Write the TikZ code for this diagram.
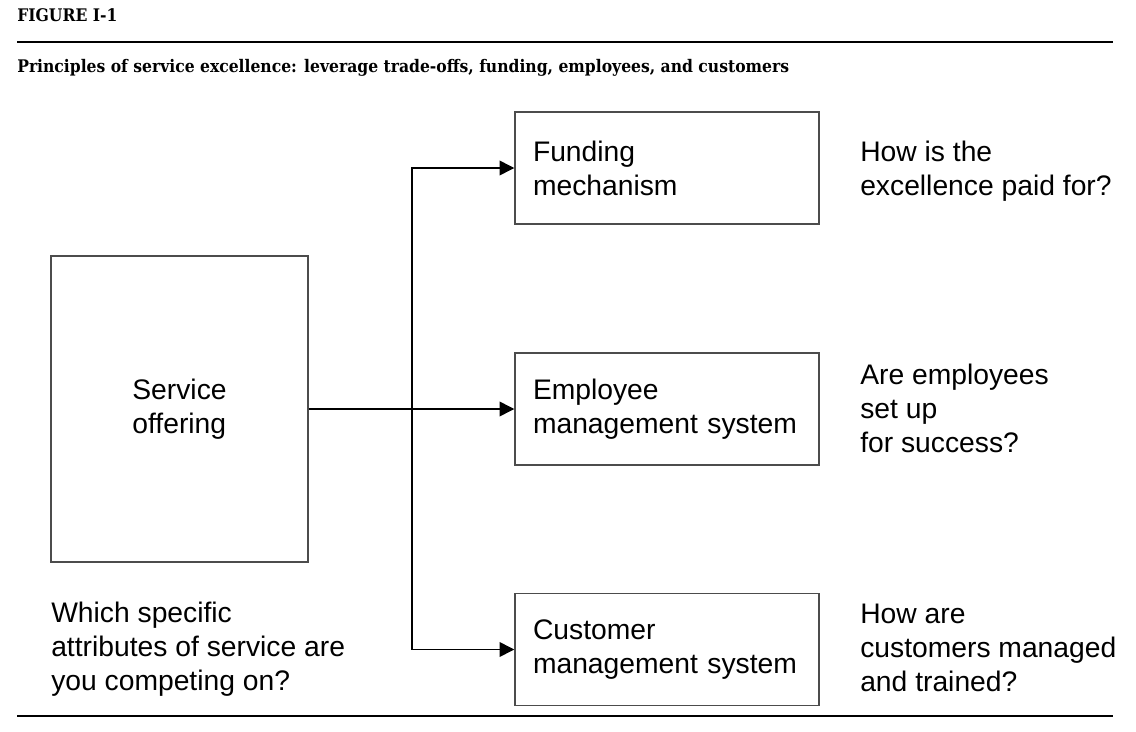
\documentclass[tikz,border=0pt]{standalone}
\usepackage{fontspec}
\setmainfont{Liberation Sans}
\newfontfamily\headfont{DejaVu Serif Condensed}
\usetikzlibrary{arrows.meta}
\begin{document}
\begin{tikzpicture}[x=0.75pt, y=-0.75pt,
    box/.style={draw=black!70, line width=1.1pt, minimum width=228pt, minimum height=84pt,
        text width=201pt, align=left, inner xsep=13.5pt, font=\fontsize{21.2}{25.5}\selectfont},
    txt/.style={inner sep=0pt, align=left, font=\fontsize{21.2}{25.5}\selectfont},
    head/.style={inner sep=0pt, font=\headfont\bfseries\fontsize{13}{15}\selectfont},
    arr/.style={line width=1.1pt, -{Triangle[length=11pt, width=11pt]}},
    rule/.style={line width=1.5pt}]
            \useasboundingbox (0,0) rectangle (1136,732);
            \node[head, anchor=base west] (fig) at (17,21) {FIGURE I-1};
            \node[head, anchor=base west] (title) at (17,72.5) {Principles of service excellence: leverage trade-offs, funding, employees, and customers};
            \draw[rule] (17,41.5) -- (1113,41.5);
            \draw[rule] (17,716) -- (1113,716);
            \node[box, minimum width=192.75pt, minimum height=229.5pt, text width=, align=left] (service) at (179.5,409) {Service\\offering};
            \node[box] (funding) at (667,168) {Funding\\mechanism};
            \node[box] (employee) at (667,409) {Employee\\management system};
            \node[box] (customer) at (667,649.5) {Customer\\management system};
            \coordinate (split) at (412,409);
            \draw[arr] (service.east) -- (employee.west);
            \draw[arr] (split) |- (funding.west);
            \draw[arr] (split) |- (customer.west);
            \node[txt, anchor=west] (paid) at (860,171) {How is the\\excellence paid for?};
            \node[txt, anchor=west] (setup) at (860,408) {Are employees\\set up\\for success?};
            \node[txt, anchor=west] (trained) at (860,647.5) {How are\\customers managed\\and trained?};
            \node[txt, anchor=west] (attrib) at (51,649) {Which specific\\attributes of service are\\you competing on?};
\end{tikzpicture}
\end{document}
